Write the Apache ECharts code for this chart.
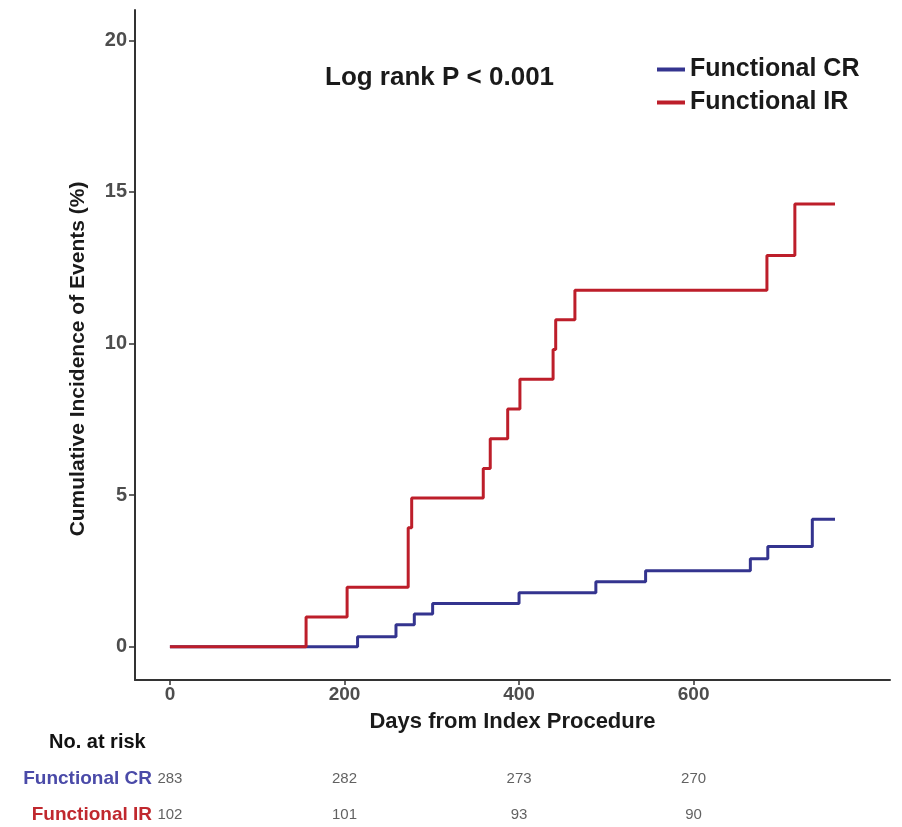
<!DOCTYPE html>
<html>
<head>
<meta charset="utf-8">
<script src="https://cdn.jsdelivr.net/npm/echarts@6/dist/echarts.min.js"></script>
<style>
html,body{margin:0;padding:0;background:#fff;}
#chart{width:902px;height:827px;}
</style>
</head>
<body>
<div id="chart"></div>
<script>
// ---- data ----
var crDays = [0, 215, 259, 280, 301, 400, 488, 545, 665, 685, 736, 762];
var crInc  = [0, 0.33, 0.72, 1.08, 1.42, 1.78, 2.14, 2.5, 2.9, 3.3, 4.2, 4.2];
var irDays = [0, 156, 203, 273, 277, 359, 367, 387, 401, 439, 442, 464, 684, 716, 762];
var irInc  = [0, 0.98, 1.96, 3.92, 4.9, 5.88, 6.86, 7.84, 8.82, 9.8, 10.78, 11.76, 12.9, 14.6, 14.6];
var xTicks = [0, 200, 400, 600];
var yTicks = [0, 5, 10, 15, 20];
var riskDays = [0, 200, 400, 600];
var riskCR = [283, 282, 273, 270];
var riskIR = [102, 101, 93, 90];
var seriesNames = ['Functional CR', 'Functional IR'];
var pLabel = 'Log rank P < 0.001';

var BLUE = '#34348f', RED = '#bd1e2a';
var FONT = "'Liberation Sans',Arial,sans-serif";

function pairs(xs, ys){ return xs.map(function(x,i){ return [x, ys[i]]; }); }

var legendText = {fontSize: 25, fontWeight: 'bold', color: '#1a1a1a', fontFamily: FONT};

var chart = echarts.init(document.getElementById('chart'), null, {renderer:'canvas'});
var option = {
  backgroundColor: '#fff',
  animation: false,
  textStyle: {fontFamily: FONT},
  grid: [
    {left: 135, right: 12, top: 10, bottom: 147, containLabel: false},
    {left: 135, right: 12, top: 779, height: 36, containLabel: false}
  ],
  legend: {
    orient: 'vertical', left: 652, top: 52, itemGap: 8,
    itemWidth: 28, itemHeight: 4, icon: 'rect',
    data: seriesNames.map(function(n){ return {name: n, textStyle: legendText}; }),
    textStyle: legendText
  },
  xAxis: [
    {
      type: 'value', gridIndex: 0, min: -40, max: 825,
      name: 'Days from Index Procedure', nameLocation: 'middle', nameGap: 31,
      nameTextStyle: {fontSize: 22, fontWeight: 'bold', color: '#1a1a1a', fontFamily: FONT},
      axisLine: {show: true, onZero: false, lineStyle: {color: '#333', width: 2}},
      axisTick: {show: true, length: 5, lineStyle: {color: '#333', width: 1.5}, customValues: xTicks},
      axisLabel: {fontSize: 19, fontWeight: 'bold', color: '#4d4d4d', margin: 5, fontFamily: FONT, customValues: xTicks},
      splitLine: {show: false}
    },
    {
      type: 'value', gridIndex: 1, min: -40, max: 825,
      axisLine: {show: false}, axisTick: {show: false}, axisLabel: {show: false}, splitLine: {show: false}
    }
  ],
  yAxis: [
    {
      type: 'value', gridIndex: 0, min: -1.1, max: 21,
      name: 'Cumulative Incidence of Events (%)', nameLocation: 'middle', nameGap: 46, nameRotate: 90,
      nameTextStyle: {fontSize: 21, fontWeight: 'bold', color: '#1a1a1a', fontFamily: FONT, padding: [0, 28, 0, 0]},
      axisLine: {show: true, onZero: false, lineStyle: {color: '#333', width: 2}},
      axisTick: {show: true, length: 6, lineStyle: {color: '#333', width: 1.5}, customValues: yTicks},
      axisLabel: {fontSize: 20, fontWeight: 'bold', color: '#4d4d4d', margin: 8, fontFamily: FONT, customValues: yTicks},
      splitLine: {show: false}
    },
    {
      type: 'category', gridIndex: 1, inverse: true, boundaryGap: false, data: seriesNames,
      axisLine: {show: false}, axisTick: {show: false}, splitLine: {show: false},
      axisLabel: {
        margin: -17, fontSize: 19, fontWeight: 'bold', fontFamily: FONT,
        formatter: function(v){ return v === seriesNames[0] ? '{b|' + v + '}' : '{r|' + v + '}'; },
        rich: {
          b: {color: '#4a4aa8', fontSize: 19, fontWeight: 'bold', fontFamily: FONT},
          r: {color: '#c0282e', fontSize: 19, fontWeight: 'bold', fontFamily: FONT}
        }
      }
    }
  ],
  graphic: [
    {type: 'text', left: 325, top: 65, style: {text: pLabel, fontSize: 26, fontWeight: 'bold', fill: '#1a1a1a', fontFamily: FONT}},
    {type: 'text', left: 49, top: 732, style: {text: 'No. at risk', fontSize: 20, fontWeight: 'bold', fill: '#111', fontFamily: FONT}}
  ],
  series: [
    {
      name: seriesNames[0], type: 'line', step: 'end', xAxisIndex: 0, yAxisIndex: 0,
      data: pairs(crDays, crInc), showSymbol: false, symbol: 'none',
      lineStyle: {color: BLUE, width: 3}, itemStyle: {color: BLUE}, z: 2
    },
    {
      name: seriesNames[1], type: 'line', step: 'end', xAxisIndex: 0, yAxisIndex: 0,
      data: pairs(irDays, irInc), showSymbol: false, symbol: 'none',
      lineStyle: {color: RED, width: 3}, itemStyle: {color: RED}, z: 3
    },
    {
      type: 'scatter', xAxisIndex: 1, yAxisIndex: 1, symbolSize: 0, silent: true,
      data: riskDays.map(function(d,i){ return [d, seriesNames[0], riskCR[i]]; }),
      label: {show: true, position: 'inside', formatter: function(p){ return p.data[2]; }, fontSize: 15, color: '#3a3a3a', fontFamily: FONT}
    },
    {
      type: 'scatter', xAxisIndex: 1, yAxisIndex: 1, symbolSize: 0, silent: true,
      data: riskDays.map(function(d,i){ return [d, seriesNames[1], riskIR[i]]; }),
      label: {show: true, position: 'inside', formatter: function(p){ return p.data[2]; }, fontSize: 15, color: '#3a3a3a', fontFamily: FONT}
    }
  ]
};
chart.setOption(option);
</script>
</body>
</html>
